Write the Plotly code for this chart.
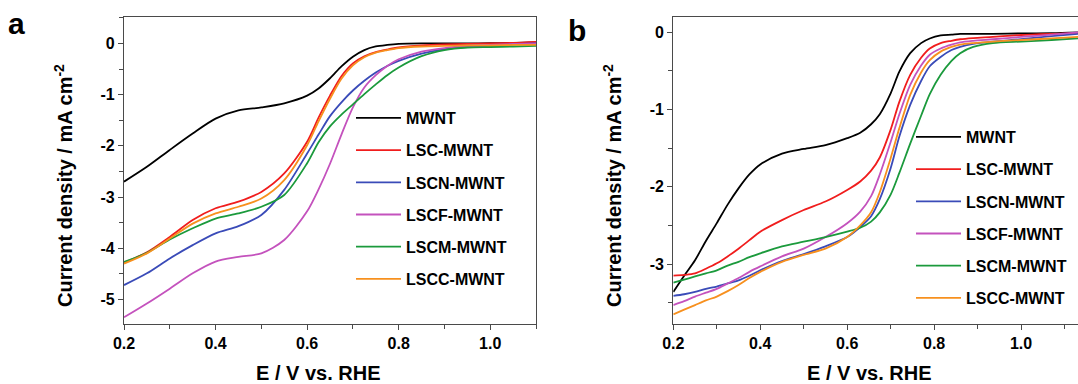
import plotly.graph_objects as go

W, H = 1078, 384

SERIES = ["MWNT", "LSC-MWNT", "LSCN-MWNT", "LSCF-MWNT", "LSCM-MWNT", "LSCC-MWNT"]
COLORS = ["#000000", "#f01d1d", "#3a4bb8", "#c452bd", "#1b9a3c", "#f7901e"]

# ---- panel a ----
E_A = [0.2, 0.25, 0.3, 0.35, 0.4, 0.45, 0.5, 0.55, 0.6, 0.625, 0.65, 0.675, 0.7,
       0.725, 0.75, 0.775, 0.8, 0.85, 0.9, 0.95, 1.0, 1.05, 1.1]
J_A_MWNT = [-2.70, -2.41, -2.08, -1.76, -1.47, -1.31, -1.25, -1.17, -1.02, -0.88, -0.68, -0.45, -0.26,
            -0.13, -0.06, -0.03, -0.01, 0.0, 0.0, 0.0, 0.005, 0.01, 0.02]
J_A_LSC = [-4.28, -4.08, -3.78, -3.45, -3.22, -3.09, -2.90, -2.54, -1.92, -1.45, -1.02, -0.64, -0.39,
           -0.25, -0.17, -0.12, -0.08, -0.04, -0.02, -0.01, 0.0, 0.01, 0.03]
J_A_LSCN = [-4.72, -4.49, -4.20, -3.94, -3.71, -3.57, -3.35, -2.86, -2.15, -1.78, -1.42, -1.15, -0.92,
            -0.73, -0.57, -0.44, -0.34, -0.20, -0.11, -0.07, -0.05, -0.02, 0.0]
J_A_LSCF = [-5.35, -5.08, -4.79, -4.49, -4.26, -4.17, -4.10, -3.84, -3.28, -2.85, -2.35, -1.78, -1.25,
            -0.86, -0.62, -0.44, -0.31, -0.16, -0.09, -0.05, -0.03, -0.01, 0.0]
J_A_LSCM = [-4.27, -4.09, -3.83, -3.61, -3.42, -3.32, -3.19, -2.96, -2.34, -1.93, -1.62, -1.39, -1.19,
            -0.99, -0.80, -0.62, -0.47, -0.25, -0.13, -0.08, -0.07, -0.06, -0.05]
J_A_LSCC = [-4.30, -4.10, -3.81, -3.52, -3.32, -3.19, -3.03, -2.67, -1.99, -1.52, -1.08, -0.69, -0.43,
            -0.27, -0.18, -0.13, -0.09, -0.06, -0.05, -0.04, -0.04, -0.03, -0.03]

# ---- panel b ----
E_B = [0.2, 0.225, 0.25, 0.275, 0.3, 0.325, 0.35, 0.375, 0.4, 0.45, 0.5, 0.55, 0.6, 0.63, 0.655,
       0.675, 0.7, 0.72, 0.745, 0.77, 0.79, 0.815, 0.84, 0.86, 0.89, 0.935, 1.0, 1.07, 1.131]
J_B_MWNT = [-3.36, -3.15, -2.95, -2.70, -2.47, -2.23, -2.02, -1.84, -1.71, -1.57, -1.51, -1.46, -1.37,
            -1.30, -1.19, -1.06, -0.79, -0.51, -0.27, -0.14, -0.08, -0.04, -0.03, -0.02, -0.02, -0.02,
            -0.015, -0.01, 0.0]
J_B_LSC = [-3.15, -3.14, -3.12, -3.06, -2.99, -2.90, -2.80, -2.69, -2.58, -2.43, -2.30, -2.19, -2.04,
           -1.93, -1.79, -1.62, -1.26, -0.90, -0.55, -0.33, -0.21, -0.14, -0.11, -0.09, -0.075, -0.06,
           -0.035, -0.02, -0.01]
J_B_LSCN = [-3.41, -3.39, -3.36, -3.32, -3.29, -3.25, -3.21, -3.15, -3.08, -2.96, -2.87, -2.77, -2.65,
            -2.52, -2.38, -2.16, -1.76, -1.35, -0.94, -0.63, -0.44, -0.32, -0.23, -0.19, -0.15, -0.12,
            -0.09, -0.05, -0.02]
J_B_LSCF = [-3.53, -3.48, -3.42, -3.37, -3.32, -3.25, -3.18, -3.10, -3.03, -2.90, -2.80, -2.65, -2.47,
            -2.32, -2.12, -1.84, -1.42, -1.06, -0.68, -0.43, -0.29, -0.21, -0.16, -0.13, -0.11, -0.09,
            -0.06, -0.03, 0.0]
J_B_LSCM = [-3.24, -3.20, -3.16, -3.12, -3.08, -3.02, -2.97, -2.91, -2.86, -2.77, -2.71, -2.65, -2.58,
            -2.53, -2.45, -2.33, -2.10, -1.82, -1.44, -1.08, -0.80, -0.55, -0.37, -0.27, -0.19, -0.14,
            -0.12, -0.10, -0.08]
J_B_LSCC = [-3.65, -3.59, -3.53, -3.47, -3.42, -3.35, -3.27, -3.18, -3.10, -2.97, -2.88, -2.80, -2.65,
            -2.50, -2.33, -2.07, -1.63, -1.24, -0.81, -0.52, -0.36, -0.25, -0.19, -0.16, -0.14, -0.12,
            -0.10, -0.08, -0.06]

X_TICKS = [0.2, 0.4, 0.6, 0.8, 1.0]
X_TICK_LABELS = ["0.2", "0.4", "0.6", "0.8", "1.0"]
Y_TICKS_A = [0, -1, -2, -3, -4, -5]
Y_TICK_LABELS_A = ["0", "-1", "-2", "-3", "-4", "-5"]
Y_TICKS_B = [0, -1, -2, -3]
Y_TICK_LABELS_B = ["0", "-1", "-2", "-3"]
X_TITLE = "E / V vs. RHE"
Y_TITLE = "Current density / mA cm<sup>-2</sup>"

FONT = "Liberation Sans, Arial, sans-serif"
AXC = "#4a4a4a"

fig = go.Figure()
data_a = [J_A_MWNT, J_A_LSC, J_A_LSCN, J_A_LSCF, J_A_LSCM, J_A_LSCC]
data_b = [J_B_MWNT, J_B_LSC, J_B_LSCN, J_B_LSCF, J_B_LSCM, J_B_LSCC]
for i, (name, col) in enumerate(zip(SERIES, COLORS)):
    fig.add_trace(go.Scatter(x=E_A, y=data_a[i], name=name, mode="lines",
                             line=dict(color=col, width=1.8, shape="spline", smoothing=0.8),
                             xaxis="x", yaxis="y", legend="legend", legendgroup=f"a{i}"))
for i, (name, col) in enumerate(zip(SERIES, COLORS)):
    fig.add_trace(go.Scatter(x=E_B, y=data_b[i], name=name, mode="lines",
                             line=dict(color=col, width=1.8, shape="spline", smoothing=0.8),
                             xaxis="x2", yaxis="y2", legend="legend2", legendgroup=f"b{i}"))

ydom = [(H - 324) / H, (H - 17.3) / H]
tickfont = dict(family=FONT, size=16, color="black", weight="bold")

def xaxis(dom, rng):
    return dict(domain=dom, range=rng, showline=True, linecolor=AXC, linewidth=1.2, mirror=True,
                ticks="outside", ticklen=5, tickcolor=AXC, tickvals=X_TICKS, ticktext=X_TICK_LABELS,
                minor=dict(dtick=0.1, tick0=0.2, ticks="outside", ticklen=4, tickcolor=AXC),
                showgrid=False, zeroline=False, tickfont=tickfont, fixedrange=True)

def yaxis(anchor, rng, vals, labels, mirror):
    return dict(domain=ydom, range=rng, anchor=anchor, showline=True, linecolor=AXC, linewidth=1.2,
                mirror=mirror, ticks="outside", ticklen=5, tickcolor=AXC, tickvals=vals, ticktext=labels,
                minor=dict(dtick=0.5, tick0=0, ticks="outside", ticklen=4, tickcolor=AXC),
                showgrid=False, zeroline=False, tickfont=tickfont, fixedrange=True)

legfont = dict(family=FONT, size=16, color="black", weight="bold")
fig.update_layout(
    width=W, height=H, margin=dict(l=0, r=0, t=0, b=0, autoexpand=False),
    paper_bgcolor="white", plot_bgcolor="white",
    xaxis=xaxis([124 / W, 536 / W], [0.2, 1.1]),
    yaxis=yaxis("x", [-5.48, 0.51], Y_TICKS_A, Y_TICK_LABELS_A, True),
    xaxis2=dict(xaxis([673.3 / W, 1.0], [0.2, 1.131]), anchor="y2"),
    yaxis2=yaxis("x2", [-3.775, 0.194], Y_TICKS_B, Y_TICK_LABELS_B, False),
    legend=dict(x=351 / W, y=(H - 101) / H, xanchor="left", yanchor="top", font=legfont,
                tracegroupgap=8.4, bgcolor="rgba(0,0,0,0)", itemwidth=45),
    legend2=dict(x=911 / W, y=(H - 120) / H, xanchor="left", yanchor="top", font=legfont,
                 tracegroupgap=8.4, bgcolor="rgba(0,0,0,0)", itemwidth=45),
    showlegend=True,
)

tfont = dict(family=FONT, size=20, color="black", weight="bold")
ann = [
    dict(text=X_TITLE, x=318 / W, y=(H - 373) / H, xref="paper", yref="paper", showarrow=False,
         font=tfont, xanchor="center", yanchor="middle"),
    dict(text=X_TITLE, x=869 / W, y=(H - 373) / H, xref="paper", yref="paper", showarrow=False,
         font=tfont, xanchor="center", yanchor="middle"),
    dict(text=Y_TITLE, x=63 / W, y=(H - 186) / H, xref="paper", yref="paper", showarrow=False,
         font=tfont, textangle=-90, xanchor="center", yanchor="middle"),
    dict(text=Y_TITLE, x=612 / W, y=(H - 186) / H, xref="paper", yref="paper", showarrow=False,
         font=tfont, textangle=-90, xanchor="center", yanchor="middle"),
    dict(text="a", x=16 / W, y=(H - 23) / H, xref="paper", yref="paper", showarrow=False,
         font=dict(family=FONT, size=30, color="black", weight="bold"), xanchor="center", yanchor="middle"),
    dict(text="b", x=577 / W, y=(H - 31) / H, xref="paper", yref="paper", showarrow=False,
         font=dict(family=FONT, size=30, color="black", weight="bold"), xanchor="center", yanchor="middle"),
]
fig.update_layout(annotations=ann)

fig.write_html("out.html", config={"displayModeBar": False},
               post_script="document.body.style.margin='0';")
